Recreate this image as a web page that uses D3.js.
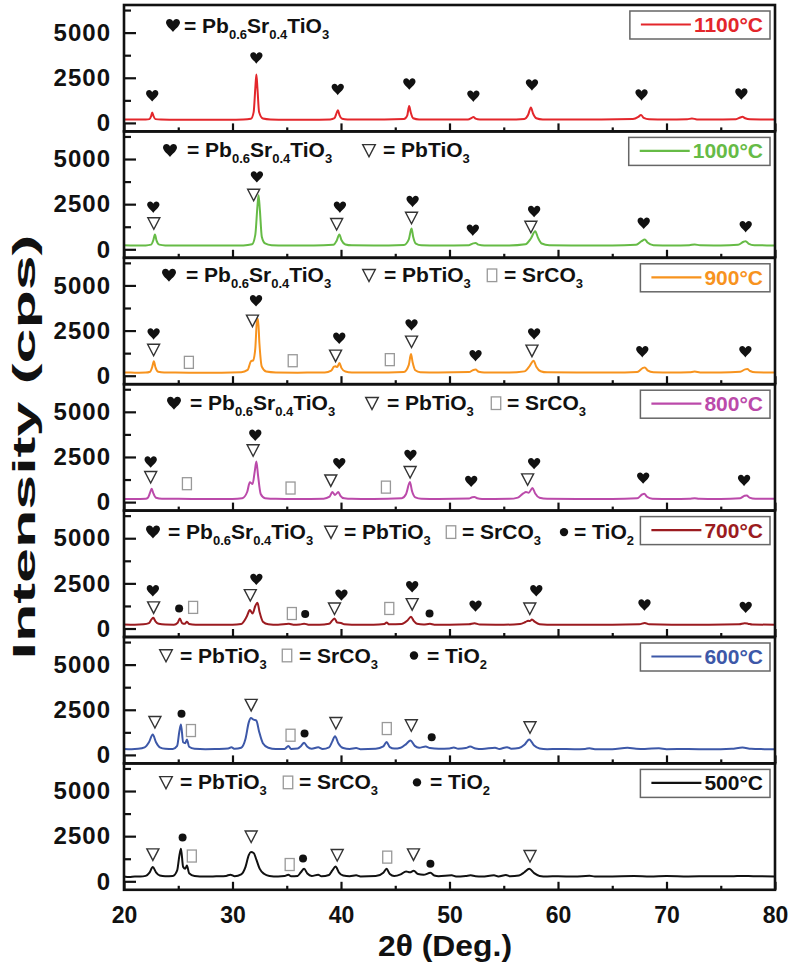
<!DOCTYPE html>
<html>
<head>
<meta charset="utf-8">
<script src="https://cdn.jsdelivr.net/npm/d3@7"></script>
<style>
  body { margin: 0; background: #fff; }
  text { font-family: "Liberation Sans", Arial, sans-serif; font-weight: bold; }
</style>
</head>
<body>
<script>
// ---- data (2theta in deg, intensity in cps) ----
const temps = ["1100", "1000", "900", "800", "700", "600", "500"];
const colors = ["#e3262b", "#66bb46", "#f7931e", "#bb4aaa", "#9b1b20", "#3d58a8", "#111111"];
const xTicks = [20, 30, 40, 50, 60, 70, 80];
const yTicks = [0, 2500, 5000];

const xrd1100 = [[20,190],[21,185],[22,190],[22.35,210],[22.5,380],[22.6,570],[22.72,380],[22.9,210],[23.4,190],[25,180],[27,180],[29,178],[31,185],[31.7,230],[31.95,600],[32.1,1900],[32.2,2680],[32.3,1900],[32.45,600],[32.8,240],[33.5,190],[35,180],[37,180],[39,195],[39.4,260],[39.6,560],[39.72,700],[39.85,450],[40.1,230],[40.6,190],[42,185],[44,185],[45.8,210],[46.1,400],[46.28,930],[46.42,600],[46.65,260],[47.2,195],[49,185],[51.7,190],[52.05,280],[52.2,330],[52.4,240],[52.8,190],[55,185],[56.9,220],[57.25,450],[57.5,860],[57.7,520],[58.0,260],[58.6,195],[61,185],[64,185],[66.9,210],[67.4,330],[67.65,440],[67.9,280],[68.4,200],[70,185],[71.9,200],[72.35,250],[72.8,195],[74,185],[76.4,205],[76.8,300],[77.0,340],[77.25,260],[77.7,200],[79,190],[80,185]];

const xrd1000 = [[20,220],[21,210],[22,215],[22.5,260],[22.7,500],[22.85,820],[23.0,480],[23.25,260],[23.8,215],[26,205],[29,205],[31,215],[31.8,280],[32.1,800],[32.3,2400],[32.4,3000],[32.52,2200],[32.7,700],[33.0,330],[33.6,230],[35,210],[37.5,205],[39.3,250],[39.6,480],[39.85,820],[40.05,500],[40.4,270],[41,220],[43,210],[45.8,240],[46.25,550],[46.5,1150],[46.65,700],[46.9,320],[47.4,225],[49,210],[51.8,230],[52.2,330],[52.4,350],[52.65,260],[53.2,215],[55.5,215],[57.0,280],[57.5,600],[57.9,1000],[58.15,650],[58.5,320],[59.2,225],[62,210],[65,210],[67.2,250],[67.7,450],[68.0,540],[68.25,380],[68.8,230],[70.5,210],[72.1,230],[72.6,270],[73.1,220],[75,210],[76.6,250],[77.1,420],[77.3,450],[77.55,320],[78.1,225],[80,215]];

const xrd900 = [[20,175],[21,170],[22,175],[22.4,220],[22.6,480],[22.75,800],[22.9,460],[23.15,220],[23.7,175],[26,170],[29,170],[30.8,190],[31.4,320],[31.7,800],[31.9,850],[32.1,1500],[32.25,3000],[32.35,3150],[32.48,1800],[32.7,500],[33.1,230],[34,180],[36,170],[38.5,180],[39.1,280],[39.35,500],[39.5,520],[39.65,480],[39.85,700],[40.05,420],[40.4,230],[41,180],[43,175],[45.8,210],[46.25,600],[46.45,1200],[46.6,750],[46.85,300],[47.3,190],[49,175],[51.8,200],[52.2,320],[52.4,340],[52.7,220],[53.2,180],[55.5,175],[56.9,240],[57.4,550],[57.75,830],[58.0,500],[58.4,250],[59,185],[62,175],[65,175],[67.3,210],[67.8,420],[68.0,460],[68.25,300],[68.8,190],[70.5,175],[72.1,190],[72.6,230],[73.1,180],[75,175],[76.8,220],[77.25,350],[77.45,370],[77.7,260],[78.2,185],[80,180]];

const xrd800 = [[20,175],[21,170],[22,180],[22.2,240],[22.4,520],[22.55,740],[22.7,500],[22.95,240],[23.5,180],[25,180],[27.5,175],[30,175],[30.9,220],[31.35,560],[31.6,1100],[31.85,1000],[32.05,1700],[32.2,2250],[32.35,1500],[32.6,450],[33.0,220],[34,180],[36,175],[38.4,190],[38.95,300],[39.2,555],[39.45,400],[39.75,555],[39.95,350],[40.3,210],[41,180],[43,175],[45.6,220],[46.0,450],[46.35,1110],[46.55,600],[46.85,260],[47.4,185],[49,175],[51.8,200],[52.1,270],[52.3,280],[52.55,210],[53,175],[55.5,180],[56.3,250],[56.8,480],[57.05,555],[57.3,520],[57.65,780],[57.9,480],[58.3,240],[59,185],[62,175],[65,175],[67.3,210],[67.75,420],[67.95,460],[68.2,300],[68.7,190],[70.5,175],[72.1,190],[72.6,220],[73,180],[75,175],[76.8,220],[77.2,350],[77.4,370],[77.65,250],[78.2,185],[80,180]];

const xrd700 = [[20,220],[21,210],[21.8,230],[22.3,300],[22.55,520],[22.7,590],[22.9,400],[23.2,260],[23.8,220],[24.6,215],[24.95,320],[25.15,555],[25.35,300],[25.6,260],[25.8,370],[26.0,250],[26.6,215],[28,210],[30,205],[30.8,250],[31.3,650],[31.6,1020],[31.85,830],[32.1,1250],[32.3,1420],[32.5,900],[32.8,380],[33.3,240],[34.2,210],[35.2,260],[35.6,210],[36.2,220],[36.6,270],[37,215],[38,210],[38.9,260],[39.2,450],[39.4,560],[39.65,330],[40.0,310],[40.3,230],[41,210],[43,210],[44.0,250],[44.2,330],[44.45,230],[45.6,250],[46.1,430],[46.45,650],[46.7,420],[47.0,260],[47.6,220],[48.2,260],[48.6,215],[50,210],[51.8,230],[52.3,290],[52.8,220],[55,210],[56.5,250],[57.0,360],[57.25,430],[57.4,410],[57.6,500],[57.85,380],[58.3,240],[59,215],[62,210],[65,210],[67.5,230],[68.0,310],[68.4,230],[70.5,210],[73,210],[76.7,230],[77.2,290],[77.5,270],[77.9,220],[80,210]];

const xrd600 = [[20,330],[20.7,320],[21.3,340],[21.9,420],[22.3,700],[22.65,1130],[22.95,700],[23.3,420],[23.8,340],[24.5,330],[24.9,500],[25.1,1300],[25.25,1680],[25.45,700],[25.65,650],[25.8,860],[26.0,450],[26.5,340],[27.5,320],[28.5,330],[29.6,350],[29.9,420],[30.2,340],[30.8,400],[31.2,900],[31.5,1800],[31.7,2040],[31.95,1950],[32.2,1900],[32.45,1300],[32.8,650],[33.3,400],[34,330],[34.8,330],[35.15,490],[35.4,330],[36.0,350],[36.3,480],[36.6,675],[36.9,450],[37.3,340],[37.9,420],[38.3,330],[38.9,420],[39.2,750],[39.45,1040],[39.75,650],[40.2,380],[40.8,330],[41.4,380],[41.8,320],[43.2,340],[43.9,470],[44.2,710],[44.5,430],[44.9,350],[45.5,400],[46.0,600],[46.4,800],[46.8,500],[47.2,400],[47.8,460],[48.2,380],[49,340],[50.0,360],[50.4,410],[50.8,340],[51.5,380],[51.9,460],[52.4,360],[53,330],[54.2,400],[54.6,330],[55.3,430],[55.7,340],[56.4,380],[56.9,560],[57.35,860],[57.8,520],[58.3,360],[59,320],[60,330],[61.5,320],[62.5,330],[62.9,370],[63.4,320],[65,320],[66.4,390],[67.2,340],[68,330],[69.3,370],[70,320],[72,330],[74,310],[76,340],[77,410],[77.8,340],[79,320],[80,310]];

const xrd500 = [[20,270],[20.5,240],[21,270],[21.5,260],[22,300],[22.35,480],[22.65,790],[22.95,500],[23.3,320],[23.8,280],[24.5,290],[24.9,600],[25.1,1400],[25.25,1800],[25.45,800],[25.65,700],[25.8,880],[26.0,450],[26.5,300],[27.5,260],[28.5,280],[29.4,300],[29.8,370],[30.2,280],[30.8,380],[31.2,800],[31.5,1450],[31.7,1620],[31.95,1570],[32.2,1200],[32.5,700],[32.9,420],[33.4,300],[34.2,270],[34.8,290],[35.15,370],[35.4,280],[36.0,300],[36.3,500],[36.6,690],[36.9,430],[37.3,300],[37.9,360],[38.2,280],[38.9,350],[39.2,600],[39.5,820],[39.8,500],[40.2,320],[40.8,280],[41.4,330],[41.8,270],[43.2,290],[43.9,480],[44.2,690],[44.5,400],[44.9,290],[45.5,380],[46.0,550],[46.35,500],[46.7,580],[47.1,400],[47.6,360],[48.25,470],[48.6,320],[49,280],[50.2,330],[50.6,270],[51.5,300],[51.95,330],[52.4,280],[53,270],[54.1,330],[54.5,270],[55.2,350],[55.6,280],[56.4,320],[56.9,500],[57.35,690],[57.8,450],[58.3,300],[59,270],[60,280],[61.5,260],[62.9,310],[63.4,265],[65,270],[67,290],[68.5,270],[70,295],[72,270],[74,280],[76,275],[77,300],[78,280],[80,270]];

// phase markers: [symbol, 2theta, cps]  h = Pb0.6Sr0.4TiO3, t = PbTiO3, s = SrCO3, d = TiO2
const mk1100 = [["h",22.6,1500],["h",32.2,3600],["h",39.7,1850],["h",46.3,2150],["h",52.2,1480],["h",57.6,2100],["h",67.7,1550],["h",76.9,1600]];
const mk1000 = [["h",22.7,2330],["t",22.75,1440],["h",32.25,4010],["t",31.95,3020],["h",39.9,2330],["t",39.6,1400],["h",46.6,2650],["t",46.5,1750],["h",52.15,1060],["h",57.8,2090],["t",57.5,1250],["h",67.9,1440],["h",77.3,1250]];
const mk900 = [["h",22.73,2310],["t",22.73,1440],["h",32.17,4150],["t",31.84,3050],["h",39.84,2070],["t",39.5,1110],["h",46.5,2810],["t",46.5,1890],["h",52.4,1110],["h",57.8,2310],["t",57.6,1390],["h",67.77,1330],["h",77.27,1330],["s",25.98,740],["s",35.55,830],["s",44.5,890]];
const mk800 = [["h",22.46,2220],["t",22.46,1390],["h",32.1,3700],["t",31.9,2870],["h",39.84,2130],["t",39.06,1200],["h",46.4,2590],["t",46.37,1670],["h",52.0,1150],["h",57.8,2130],["t",57.2,1260],["h",67.85,1330],["h",77.15,1200],["s",25.8,1020],["s",35.35,780],["s",44.14,830]];
const mk700 = [["h",22.66,2090],["t",22.73,1170],["h",32.2,2720],["t",31.64,1850],["h",40.04,1850],["t",39.4,1110],["h",46.56,2310],["t",46.56,1350],["h",52.4,1240],["h",58.0,2090],["t",57.4,1110],["h",67.97,1300],["h",77.3,1170],["s",26.37,1170],["s",35.47,830],["s",44.45,1110],["d",25.08,1110],["d",36.7,800],["d",48.16,830]];
const mk600 = [["t",22.85,1820],["t",31.72,2770],["t",39.53,1770],["t",46.48,1640],["t",57.42,1530],["s",26.17,1350],["s",35.35,1090],["s",44.22,1460],["d",25.3,2280],["d",36.64,1190],["d",48.36,985]];
const mk500 = [["t",22.66,1490],["t",31.72,2480],["t",39.65,1455],["t",46.68,1490],["t",57.42,1400],["s",26.25,1400],["s",35.27,930],["s",44.26,1340],["d",25.4,2430],["d",36.5,1270],["d",48.24,970]];

// phase legend per panel and formula of each phase
const legendPhases = [["h"], ["h","t"], ["h","t","s"], ["h","t","s"], ["h","t","s","d"], ["t","s","d"], ["t","s","d"]];
const phaseNames = { h: "Pb_{0.6}Sr_{0.4}TiO_{3}", t: "PbTiO_{3}", s: "SrCO_{3}", d: "TiO_{2}" };

const series = [xrd1100, xrd1000, xrd900, xrd800, xrd700, xrd600, xrd500];
const markers = [mk1100, mk1000, mk900, mk800, mk700, mk600, mk500];

// ---- layout ----
const W = 792, H = 970;
const plotLeft = 124, plotRight = 775, plotTop = 5, panelH = 126.4;
// symbol centre / label start for the phase legend of each panel
const legendX = [
  [[173,184]],
  [[170,187],[369,383]],
  [[169,186],[369,384],[492,504]],
  [[174,190],[372,387],[496,507]],
  [[153,168],[331,344],[451,462],[564,574]],
  [[166,180],[287,299],[414,427]],
  [[166,180],[288,299],[417,430]]
];
const legendBase = [27.5, 26, 24.5, 26, 28.5, 25.5, 26];

const svg = d3.select("body").append("svg")
  .attr("width", W).attr("height", H);

const x = d3.scaleLinear().domain([20, 80]).range([plotLeft, plotRight]);

const heartPath = "M0,6.5 C-1.5,4 -7,0.5 -7,-3 C-7,-5.5 -5,-6.5 -3.5,-6.5 C-1.8,-6.5 -0.5,-5.2 0,-4 C0.5,-5.2 1.8,-6.5 3.5,-6.5 C5,-6.5 7,-5.5 7,-3 C7,0.5 1.5,4 0,6.5Z";

function drawSymbol(g, type, cx, cy, k) {
  if (type === "h") {
    g.append("path").attr("d", heartPath)
      .attr("transform", "translate(" + cx + "," + cy + ") scale(" + k + ")")
      .attr("fill", "#111");
  } else if (type === "t") {
    g.append("path").attr("d", "M-6,-5.5 L6,-5.5 L0,6 Z")
      .attr("transform", "translate(" + cx + "," + cy + ") scale(" + k + ")")
      .attr("fill", "none").attr("stroke", "#333").attr("stroke-width", 1.4 / k);
  } else if (type === "s") {
    g.append("rect").attr("x", cx - 4.5 * k).attr("y", cy - 6 * k)
      .attr("width", 9 * k).attr("height", 12 * k)
      .attr("fill", "none").attr("stroke", "#999").attr("stroke-width", 1.3);
  } else {
    g.append("circle").attr("cx", cx).attr("cy", cy).attr("r", 4 * k).attr("fill", "#111");
  }
}

// add text with _{sub} parts as subscripts (shift back on the next normal part)
function addFormula(textSel, str) {
  const parts = str.split(/_\{([^}]*)\}/);
  let down = false;
  parts.forEach((p, j) => {
    if (p === "") return;
    if (j % 2 === 1) {
      textSel.append("tspan").attr("font-size", 13).attr("dy", 6).text(p);
      down = true;
    } else {
      textSel.append("tspan").attr("dy", down ? -6 : 0).text(p);
      down = false;
    }
  });
}

series.forEach((data, i) => {
  const y0 = plotTop + i * panelH;
  const y = d3.scaleLinear().domain([-470, 6530]).range([y0 + panelH, y0]);
  const g = svg.append("g");
  const last = i === series.length - 1;

  // trace
  const line = d3.line().x(d => x(d[0])).y(d => y(d[1])).curve(d3.curveMonotoneX);
  g.append("path")
    .datum(data)
    .attr("d", line)
    .attr("fill", "none")
    .attr("stroke", colors[i])
    .attr("stroke-width", 2)
    .attr("stroke-linejoin", "round");

  // peak markers
  markers[i].forEach(m => drawSymbol(g, m[0], x(m[1]), y(m[2]), m[0] === "h" ? 0.88 : 1));

  // y axis (ticks inward)
  const yAx = g.append("g").attr("transform", "translate(" + plotLeft + ",0)")
    .call(d3.axisLeft(y).tickValues(yTicks).tickSize(-12).tickPadding(13).tickFormat(d3.format("d")));
  yAx.select(".domain").remove();
  yAx.selectAll("line").attr("stroke", "#111").attr("stroke-width", 2.2);
  yAx.selectAll("text").attr("font-size", 24).attr("fill", "#111")
    .attr("letter-spacing", 1)
    .attr("font-family", "'Liberation Sans', Arial, sans-serif");
  const yMin = g.append("g").attr("transform", "translate(" + plotLeft + ",0)")
    .call(d3.axisLeft(y).tickValues([1250, 3750, 6250]).tickSize(-7));
  yMin.select(".domain").remove();
  yMin.selectAll("text").remove();
  yMin.selectAll("line").attr("stroke", "#111").attr("stroke-width", 2.2);

  // x ticks on the bottom of each panel (inward)
  const xAx = g.append("g").attr("transform", "translate(0," + (y0 + panelH) + ")")
    .call(d3.axisBottom(x).tickValues(xTicks).tickSize(-8).tickPadding(17).tickFormat(d3.format("d")));
  xAx.select(".domain").remove();
  xAx.selectAll("line").attr("stroke", "#111").attr("stroke-width", 2.2);
  if (last) {
    xAx.selectAll("text").attr("font-size", 23).attr("fill", "#111")
      .attr("font-family", "'Liberation Sans', Arial, sans-serif");
  } else {
    xAx.selectAll("text").remove();
  }
  const xMin = g.append("g").attr("transform", "translate(0," + (y0 + panelH) + ")")
    .call(d3.axisBottom(x).tickValues([25, 35, 45, 55, 65, 75]).tickSize(-4));
  xMin.select(".domain").remove();
  xMin.selectAll("text").remove();
  xMin.selectAll("line").attr("stroke", "#111").attr("stroke-width", 2.2);

  // phase legend
  legendPhases[i].forEach((ph, j) => {
    const [sx, lx] = legendX[i][j];
    const base = y0 + legendBase[i];
    drawSymbol(g, ph, sx, base - 7, ph === "h" ? 1 : 1.05);
    const t = g.append("text").attr("x", lx).attr("y", base)
      .attr("font-size", 21).attr("fill", "#111");
    addFormula(t, "= " + phaseNames[ph]);
  });

  // temperature legend box
  const tb = y0 + 27;
  const box = g.append("rect");
  const lg = g.append("line");
  const tt = g.append("text").attr("x", 763).attr("y", tb)
    .attr("text-anchor", "end").attr("font-size", 21)
    .attr("fill", colors[i]).text(temps[i] + "\u00b0C");
  const tw = tt.node().getComputedTextLength();
  const lineEnd = 763 - tw - 3;
  box.attr("x", lineEnd - 61).attr("y", y0 + 6)
    .attr("width", 770 - (lineEnd - 61)).attr("height", 28)
    .attr("fill", "#fff").attr("stroke", "#666").attr("stroke-width", 1.5);
  lg.attr("x1", lineEnd - 50).attr("x2", lineEnd)
    .attr("y1", tb - 7.5).attr("y2", tb - 7.5)
    .attr("stroke", colors[i]).attr("stroke-width", 2.2);

  // panel frame
  g.append("rect").attr("x", plotLeft).attr("y", y0)
    .attr("width", plotRight - plotLeft).attr("height", panelH)
    .attr("fill", "none").attr("stroke", "#111").attr("stroke-width", 2.6);
});

// axis titles
svg.append("text").attr("x", 445).attr("y", 956)
  .attr("text-anchor", "middle").attr("font-size", 29).attr("fill", "#111")
  .attr("textLength", 134).attr("lengthAdjust", "spacingAndGlyphs")
  .text("2\u03b8 (Deg.)");
svg.append("text")
  .attr("transform", "translate(35,447) rotate(-90)")
  .attr("text-anchor", "middle").attr("font-size", 32).attr("fill", "#111")
  .attr("textLength", 425).attr("lengthAdjust", "spacingAndGlyphs")
  .text("Intensity (cps)");
</script>
</body>
</html>
